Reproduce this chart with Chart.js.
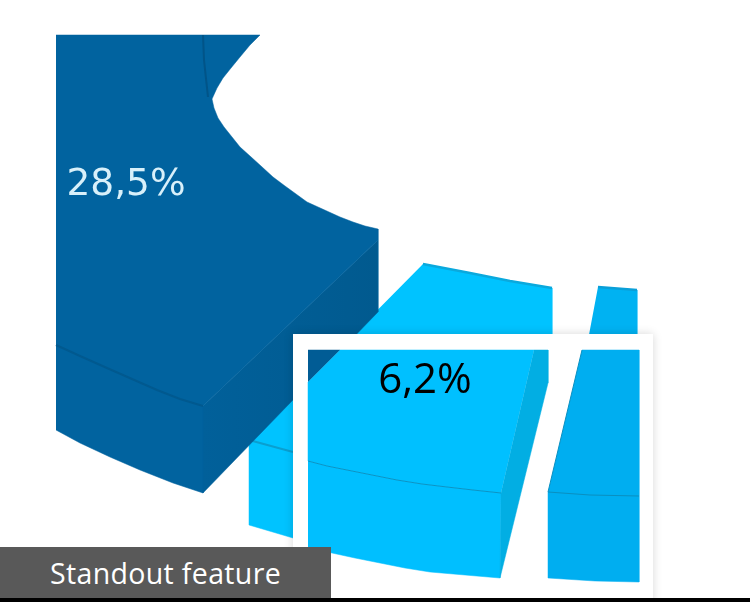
<!DOCTYPE html>
<html>
<head>
  <meta charset="utf-8">
  <title>Standout feature</title>
  <script src="https://cdn.jsdelivr.net/npm/chart.js@4"></script>
  <style>
    html, body { margin: 0; padding: 0; background-color: #fff; overflow: hidden; }
    #stage { position: relative; width: 750px; height: 602px; overflow: hidden; }
    canvas { position: absolute; left: 0; top: 0; }
    #backChart { filter: blur(0.7px); }
    #insetBox {
      position: absolute; left: 293px; top: 334px; width: 360px; height: 270px;
      background-color: #fff; box-shadow: 0 0 9px rgba(0,0,0,0.16);
    }
    #caption {
      position: absolute; left: 0; top: 547px; width: 331px; height: 51px;
      background-color: #595959; color: #fff;
      font: 28.5px "Open Sans", sans-serif; letter-spacing: 0.35px; line-height: 52px;
      padding-left: 50px; box-sizing: border-box; white-space: nowrap;
    }
    #baseLine { position: absolute; left: 0; top: 598px; width: 750px; height: 4px; background-color: #000; }
  </style>
</head>
<body>
  <div id="stage">
    <canvas id="backChart" width="750" height="602"></canvas>
    <div id="insetBox"></div>
    <canvas id="insetChart" width="750" height="602"></canvas>
    <div id="caption">Standout feature</div>
    <div id="baseLine"></div>
  </div>

  <script>
    // slice labels, as printed
    const darkLabel = '28,5%';
    const lightLabel = '6,2%';
    const captionText = 'Standout feature';

    // outlines, [x, y] on a 750 x 602 axis pair
    const darkFace = [[56,35],[260,35],[250,45],[240,57],[231,68],[223,78],[217,88],[212,99],[214,108],[218,118],[224,127],[232,137],[240,147],[250,156],[261,166],[273,177],[285,186],[296,194],[307,202],[318,207],[329,212],[340,217],[353,222],[365,226],[378,229],[378,240],[203,406],[180,399],[157,390],[132,379],[107,368],[80,356],[56,345]];
    const darkFront = [[56,345],[80,356],[107,368],[132,379],[157,390],[180,399],[203,406],[203,493],[173,483],[140,470],[110,457],[80,443],[56,430]];
    const darkSide = [[203,406],[378,240],[378,312],[203,493]];
    const darkSeam = [[203,35],[204,60],[208,97]];
    const darkEdge = [[56,345],[80,356],[107,368],[132,379],[157,390],[180,399],[203,406]];
    const lightBack = [[423,264],[470,273],[510,281],[552,288],[552,340],[300,340],[300,540],[293,538],[249,525],[249,440]];
    const lightBackRim = [[423,264],[470,273],[510,281],[552,288]];
    const lightBackEdge = [[249,440],[293,452]];
    const rightBack = [[598,287],[637,290],[637,340],[588,340]];
    const rightBackRim = [[598,287],[637,290]];

    const insetCorner = [[308,350],[340,350],[308,382]];
    const insetFace = [[340,350],[534,350],[501,493],[473,490],[447,487],[422,484],[397,480],[372,475],[347,470],[327,466],[308,461],[308,382]];
    const insetFront = [[308,461],[327,466],[347,470],[372,475],[397,480],[422,484],[447,487],[473,490],[501,493],[500,578],[465,575],[430,572],[405,568],[380,563],[355,558],[332,553],[308,547]];
    const insetSide = [[534,350],[548,350],[548,383],[500,578],[501,493]];
    const insetEdge = [[308,461],[327,466],[347,470],[372,475],[397,480],[422,484],[447,487],[473,490],[501,493]];
    const insetRight = [[582,350],[639,350],[639,582],[595,581],[548,578],[548,492]];
    const insetRightEdge = [[548,492],[590,495],[639,496]];
    const insetRightSlant = [[582,350],[548,492]];

    const toPoints = (pairs) => pairs.map(([x, y]) => ({ x, y }));

    const face = (pairs, color, shadeTo) => ({
      data: toPoints(pairs), backgroundColor: color, borderColor: color,
      borderWidth: 0.5, showLine: true, pointRadius: 0, closed: true, shadeTo
    });
    const stroke = (pairs, color, width) => ({
      data: toPoints(pairs), borderColor: color, borderWidth: width,
      showLine: true, pointRadius: 0
    });

    // scatter lines do not fill closed shapes, so fill the line element's own path
    const faceFill = {
      id: 'faceFill',
      beforeDatasetDraw(chart, args) {
        const ds = chart.data.datasets[args.index];
        if (!ds.closed) return;
        const meta = chart.getDatasetMeta(args.index);
        const ctx = chart.ctx;
        ctx.save();
        ctx.fillStyle = ds.backgroundColor;
        if (ds.shadeTo) {
          // left to right shading across the face
          const xs = meta.data.map((p) => p.x);
          const shade = ctx.createLinearGradient(Math.min(...xs), 0, Math.max(...xs), 0);
          shade.addColorStop(0, ds.backgroundColor);
          shade.addColorStop(1, ds.shadeTo);
          ctx.fillStyle = shade;
        }
        ctx.beginPath();
        meta.dataset.path(ctx);
        ctx.closePath();
        ctx.fill();
        ctx.restore();
      }
    };

    const sliceText = {
      id: 'sliceText',
      afterDatasetsDraw(chart, args, opts) {
        const ctx = chart.ctx;
        ctx.save();
        ctx.font = opts.font;
        ctx.fillStyle = opts.color;
        ctx.textAlign = 'center';
        ctx.textBaseline = 'alphabetic';
        ctx.fillText(opts.text, chart.scales.x.getPixelForValue(opts.x), chart.scales.y.getPixelForValue(opts.y));
        ctx.restore();
      }
    };

    function makeChart(id, layers, label) {
      return new Chart(document.getElementById(id), {
        type: 'scatter',
        // chart.js paints the first dataset last, layers are listed back to front
        data: { datasets: layers.slice().reverse() },
        plugins: [faceFill, sliceText],
        options: {
          responsive: false,
          animation: false,
          layout: { padding: 0 },
          scales: {
            x: { type: 'linear', min: 0, max: 750, display: false },
            y: { type: 'linear', min: 0, max: 602, reverse: true, display: false }
          },
          plugins: { legend: { display: false }, tooltip: { enabled: false }, sliceText: label }
        }
      });
    }

    makeChart('backChart', [
      face(lightBack, '#00c3ff'),
      stroke(lightBackRim, '#0aa9dd', 2.5),
      stroke(lightBackEdge, '#0a9fd0', 2),
      face(rightBack, '#00b2f2'),
      stroke(rightBackRim, '#0a9fd8', 2.5),
      face(darkSide, '#01609a', '#015a8f'),
      face(darkFace, '#01639f'),
      face(darkFront, '#01639f'),
      stroke(darkSeam, '#015488', 2),
      stroke(darkEdge, '#01598f', 2)
    ], { text: darkLabel, x: 126, y: 195, font: '37.5px "DejaVu Sans", sans-serif', color: '#d8f0fa' });

    makeChart('insetChart', [
      face(insetCorner, '#015c95'),
      face(insetFront, '#00bfff'),
      face(insetFace, '#00c0ff'),
      face(insetSide, '#02aee3'),
      stroke(insetEdge, '#0a93c4', 1),
      face(insetRight, '#00aef0'),
      stroke(insetRightEdge, '#0a8fc0', 1),
      stroke(insetRightSlant, '#0a8fc0', 1)
    ], { text: lightLabel, x: 425, y: 393, font: '42px "Open Sans", sans-serif', color: '#000' });

    document.getElementById('caption').textContent = captionText;
  </script>
</body>
</html>
